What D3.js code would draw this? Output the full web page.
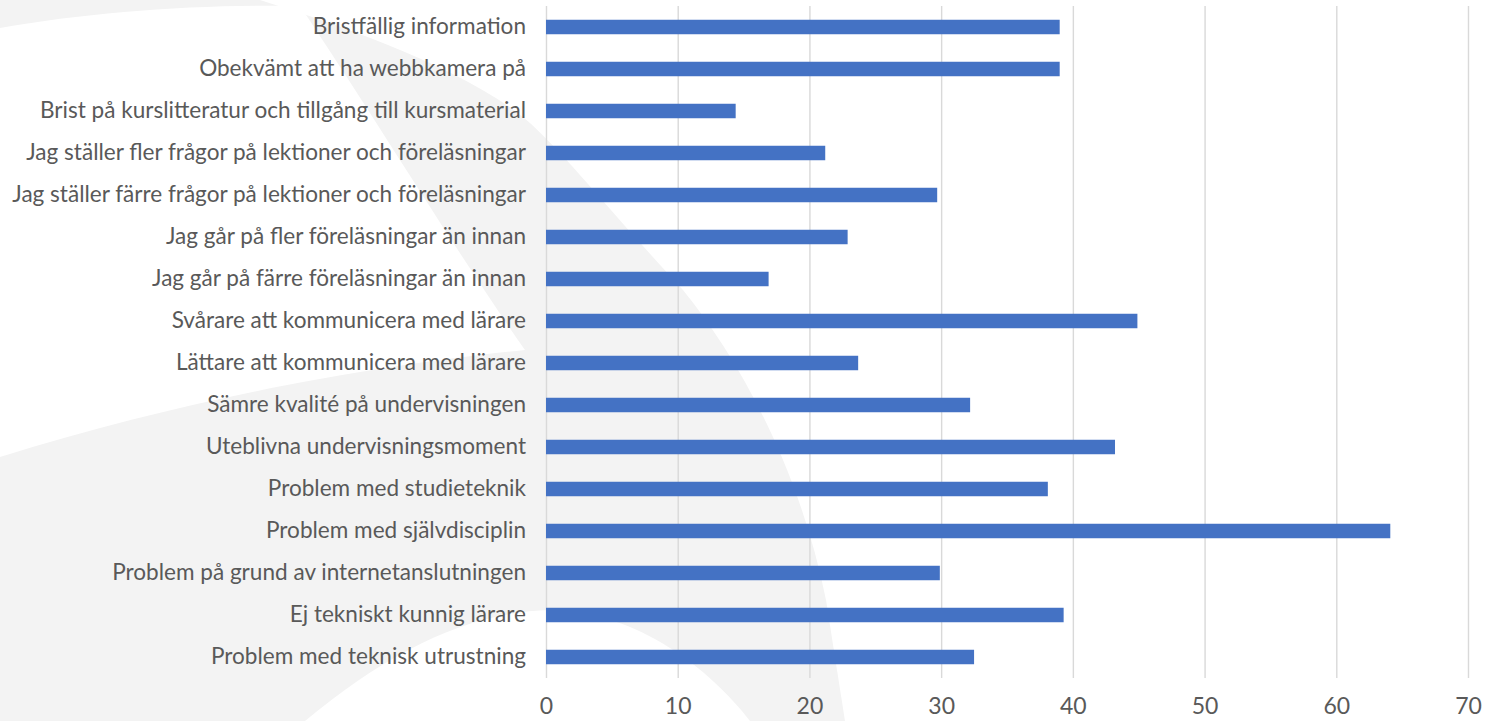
<!DOCTYPE html>
<html>
<head>
<meta charset="utf-8">
<script src="https://cdn.jsdelivr.net/npm/d3@7"></script>
<style>
  html, body { margin: 0; padding: 0; background: #ffffff; }
  svg { display: block; }
  text { font-family: Lato, "Open Sans", sans-serif; fill: #595959; }
</style>
</head>
<body>
<svg id="chart" width="1501" height="721"></svg>
<script>
// Survey answers, listed top to bottom as shown
const categories = [
  "Bristfällig information",
  "Obekvämt att ha webbkamera på",
  "Brist på kurslitteratur och tillgång till kursmaterial",
  "Jag ställer fler frågor på lektioner och föreläsningar",
  "Jag ställer färre frågor på lektioner och föreläsningar",
  "Jag går på fler föreläsningar än innan",
  "Jag går på färre föreläsningar än innan",
  "Svårare att kommunicera med lärare",
  "Lättare att kommunicera med lärare",
  "Sämre kvalité på undervisningen",
  "Uteblivna undervisningsmoment",
  "Problem med studieteknik",
  "Problem med självdisciplin",
  "Problem på grund av internetanslutningen",
  "Ej tekniskt kunnig lärare",
  "Problem med teknisk utrustning"
];
const values = [39.0, 39.0, 14.4, 21.2, 29.7, 22.9, 16.9, 44.9, 23.7, 32.2, 43.2, 38.1, 64.1, 29.9, 39.3, 32.5];
const xTicks = [0, 10, 20, 30, 40, 50, 60, 70];

const W = 1501, H = 721;
const plot = { left: 546, right: 1468, top: 6, bottom: 678 };
const svg = d3.select("#chart");

// Faint background emblem
const bg = svg.append("g");
bg.append("rect").attr("width", W).attr("height", H).attr("fill", "#ffffff");
bg.append("path")
  .attr("fill", "#f3f3f3")
  .attr("d", "M0,0 L260,0 C340,25 470,70 530,123 C570,160 600,200 683,290 C740,360 800,470 826,600 L845,721 L0,721 Z");
bg.append("path")
  .attr("fill", "#ffffff")
  .attr("d", "M0,28 C90,12 200,4 300,6 C370,110 455,250 525,350 C380,365 200,395 0,457 Z");
bg.append("path")
  .attr("fill", "#ffffff")
  .attr("d", "M305,721 C390,650 470,612 550,610 C640,612 710,670 750,721 Z");

const x = d3.scaleLinear().domain([0, 70]).range([plot.left, plot.right]);
const y = d3.scaleBand().domain(categories)
  .range([plot.top, plot.bottom])
  .paddingInner(0.655).paddingOuter(0.3275);

// Label font size chosen so the longest category label fills its column
const probe = svg.append("text").style("font-size", "100px")
  .text(categories.reduce((a, b) => a.length > b.length ? a : b));
const fontSize = 100 * 514 / probe.node().getComputedTextLength();
probe.remove();

// Vertical gridlines
svg.append("g")
  .attr("transform", `translate(0,${plot.bottom})`)
  .call(d3.axisBottom(x).tickValues(xTicks).tickSize(-(plot.bottom - plot.top)).tickFormat(""))
  .call(g => g.select(".domain").remove())
  .call(g => g.selectAll("line").attr("stroke", "#d9d9d9").attr("stroke-width", 1.4));

// Bars
svg.append("g").selectAll("rect")
  .data(values)
  .join("rect")
  .attr("x", x(0))
  .attr("y", (d, i) => y(categories[i]))
  .attr("width", d => x(d) - x(0))
  .attr("height", y.bandwidth())
  .attr("fill", "#4472c4");

// Value axis labels
svg.append("g")
  .attr("transform", `translate(0,${plot.bottom})`)
  .call(d3.axisBottom(x).tickValues(xTicks).tickSize(0).tickPadding(20).tickFormat(d3.format("d")))
  .call(g => g.select(".domain").remove())
  .call(g => g.selectAll("text").style("font-size", (fontSize * 1.02) + "px").attr("fill", "#595959"));

// Category labels
svg.append("g")
  .attr("transform", `translate(${plot.left},0)`)
  .call(d3.axisLeft(y).tickSize(0).tickPadding(20))
  .call(g => g.select(".domain").remove())
  .call(g => g.selectAll("text").style("font-size", fontSize + "px").attr("fill", "#595959"));
</script>
</body>
</html>
